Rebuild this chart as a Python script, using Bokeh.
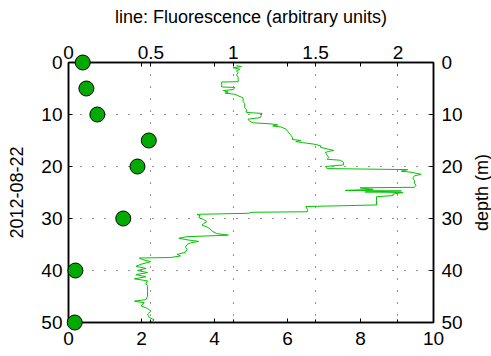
import math
from bokeh.plotting import figure
from bokeh.models import Range1d, LinearAxis, FixedTicker, Grid, CustomJSTickFormatter
from bokeh.core.properties import value
from bokeh.embed import file_html
from bokeh.resources import INLINE

# ---- data ----
sample_depth = [0, 5, 10, 15, 20, 30, 40, 50]
sample_value = [0.39, 0.49, 0.79, 2.2, 1.89, 1.5, 0.19, 0.17]

fl_depth = [0.6, 0.8, 1.0, 1.3, 1.6, 2.0, 2.4, 2.8, 3.3, 3.7, 3.75, 4.2, 4.7, 4.8,
            5.2, 5.4, 5.7, 5.9, 6.1, 6.4, 6.8, 7.5, 7.9, 8.7, 9.0, 9.6, 9.8, 10.2,
            10.6, 10.9, 11.3, 11.6, 11.8, 12.0, 12.2, 12.4, 12.8, 13.2, 13.6, 14.0,
            14.4, 14.8, 15.0, 15.2, 15.4, 15.7, 16.0, 16.3, 16.7, 16.9, 17.1, 17.3,
            17.8, 18.3, 18.6, 18.8, 19.2, 19.7, 20.0, 20.4, 20.6, 20.9, 21.1, 21.5,
            21.8, 22.2, 22.7, 23.2, 23.6, 24.0, 24.1, 24.4, 24.6, 24.7, 24.9, 25.0,
            25.3, 25.6, 25.8, 26.5, 27.4, 27.7, 28.2, 28.7, 28.8, 29.0, 29.2, 29.5,
            29.8, 30.2, 30.6, 31.0, 31.3, 31.6, 32.0, 32.4, 32.9, 33.2, 33.5, 33.8,
            34.1, 34.4, 34.7, 35.0, 35.5, 36.0, 36.5, 36.9, 37.2, 37.5, 37.6, 37.9,
            38.3, 38.8, 39.2, 39.6, 40.0, 40.4, 40.8, 41.2, 41.6, 42.0, 42.5, 43.0,
            44.0, 45.0, 45.6, 45.9, 46.2, 46.8, 47.3, 47.8, 48.4, 49.0, 49.5, 50.0]
fl_value = [1.02, 1.05, 1.00, 1.04, 1.02, 1.03, 1.02, 1.03, 1.03, 1.03, 0.93, 0.93, 0.93, 1.01,
            1.00, 0.94, 0.97, 0.95, 1.01, 1.03, 1.06, 1.06, 1.07, 1.07, 1.08, 1.08, 1.175, 1.17,
            1.165, 1.09, 1.10, 1.12, 1.23, 1.27, 1.24, 1.29, 1.32, 1.33, 1.34, 1.35,
            1.36, 1.36, 1.41, 1.38, 1.42, 1.49, 1.53, 1.53, 1.58, 1.61, 1.58, 1.56,
            1.57, 1.58, 1.57, 1.65, 1.67, 1.67, 1.56, 1.57, 2.06, 2.02, 2.08, 2.14,
            2.10, 2.09, 2.10, 2.10, 2.11, 2.10, 1.77, 1.85, 1.68, 2.02, 1.80, 2.03,
            1.97, 1.97, 1.87, 1.87, 1.87, 1.44, 1.45, 1.45, 1.12, 1.09, 0.78, 0.80,
            0.79, 0.82, 0.84, 0.82, 0.81, 0.84, 0.86, 0.87, 0.90, 0.97, 0.72, 0.67,
            0.72, 0.79, 0.74, 0.72, 0.71, 0.72, 0.71, 0.66, 0.68, 0.62, 0.43, 0.45,
            0.50, 0.44, 0.41, 0.47, 0.42, 0.48, 0.41, 0.47, 0.40, 0.48, 0.47, 0.48,
            0.48, 0.48, 0.47, 0.40, 0.46, 0.44, 0.48, 0.50, 0.48, 0.49, 0.52, 0.50]

bottom_ticks = [0, 2, 4, 6, 8, 10]
top_ticks = [0, 0.5, 1, 1.5, 2]
depth_ticks = [0, 10, 20, 30, 40, 50]
top_grid = [0.5, 1, 1.5, 2]
depth_grid = [10, 20, 30, 40]

BOTTOM_MAX = 10
TOP_MAX = 2.216
DEPTH_MAX = 50

TITLE = "line: Fluorescence (arbitrary units)"
LEFT_LABEL = "2012-08-22"
RIGHT_LABEL = "depth (m)"

FONT = "Liberation Sans"
# placement of the right-hand label (outside the frame, in bottom-axis units / depth units)
RIGHT_LABEL_X = 11.34
RIGHT_LABEL_Y = 25

p = figure(width=491, height=356, output_backend="svg", toolbar_location=None,
           title=None,
           x_range=Range1d(0, BOTTOM_MAX), y_range=Range1d(DEPTH_MAX, 0),
           x_axis_location=None, y_axis_location=None,
           min_border_left=68, min_border_right=58, min_border_top=62, min_border_bottom=34)
p.extra_x_ranges = {"top": Range1d(0, TOP_MAX)}
p.center = [r for r in p.center if not isinstance(r, Grid)]
p.background_fill_color = "white"
p.border_fill_color = "white"
p.outline_line_color = "black"
p.outline_line_width = 1.5


def style(ax, tick_size="19px"):
    ax.major_tick_in = 4
    ax.major_tick_out = 0
    ax.minor_tick_in = 3
    ax.minor_tick_out = 0
    ax.axis_line_color = "black"
    ax.axis_line_width = 1.5
    ax.major_tick_line_color = "black"
    ax.minor_tick_line_color = "black"
    ax.major_label_text_font = FONT
    ax.major_label_text_font_size = tick_size
    ax.major_label_text_color = "black"
    ax.axis_label_text_font = FONT
    ax.axis_label_text_font_size = "18px"
    ax.axis_label_text_font_style = "normal"
    ax.axis_label_text_color = "black"


fmt = CustomJSTickFormatter(code="return String(tick);")

bottom = LinearAxis(ticker=FixedTicker(ticks=bottom_ticks,
                                       minor_ticks=[t * BOTTOM_MAX / TOP_MAX for t in top_ticks]),
                    formatter=fmt)
style(bottom)
bottom.major_label_standoff = 9
p.add_layout(bottom, "below")

top = LinearAxis(x_range_name="top",
                 ticker=FixedTicker(ticks=top_ticks,
                                    minor_ticks=[b * TOP_MAX / BOTTOM_MAX for b in bottom_ticks]),
                 formatter=fmt, axis_label=TITLE)
style(top)
top.minor_tick_in = 4
top.major_label_standoff = 4
top.axis_label_standoff = 16
p.add_layout(top, "above")

left = LinearAxis(ticker=FixedTicker(ticks=depth_ticks), formatter=fmt, axis_label=LEFT_LABEL)
style(left)
left.major_label_standoff = 6
left.axis_label_standoff = 15
p.add_layout(left, "left")

right = LinearAxis(ticker=FixedTicker(ticks=depth_ticks), formatter=fmt)
style(right)
right.major_label_standoff = 8
p.add_layout(right, "right")

vgrid = Grid(dimension=0, x_range_name="top", ticker=FixedTicker(ticks=top_grid),
             grid_line_color="#222222", grid_line_dash="1 11", grid_line_width=1)
hgrid = Grid(dimension=1, ticker=FixedTicker(ticks=depth_grid),
             grid_line_color="#222222", grid_line_dash="1 11", grid_line_width=1)
p.add_layout(vgrid, "center")
p.add_layout(hgrid, "center")

p.line(fl_value, fl_depth, x_range_name="top", line_color="#00c400", line_width=1)
p.scatter(sample_value, sample_depth, size=15, fill_color="#00aa00",
          line_color="black", line_width=1, level="overlay")

p.text(x=[RIGHT_LABEL_X], y=[RIGHT_LABEL_Y], text=[RIGHT_LABEL], angle=math.pi / 2,
       text_align="center", text_baseline="middle", text_font=value(FONT),
       text_font_size="18px", text_color="black", level="overlay")

open("out.html", "w").write(file_html(p, INLINE))
